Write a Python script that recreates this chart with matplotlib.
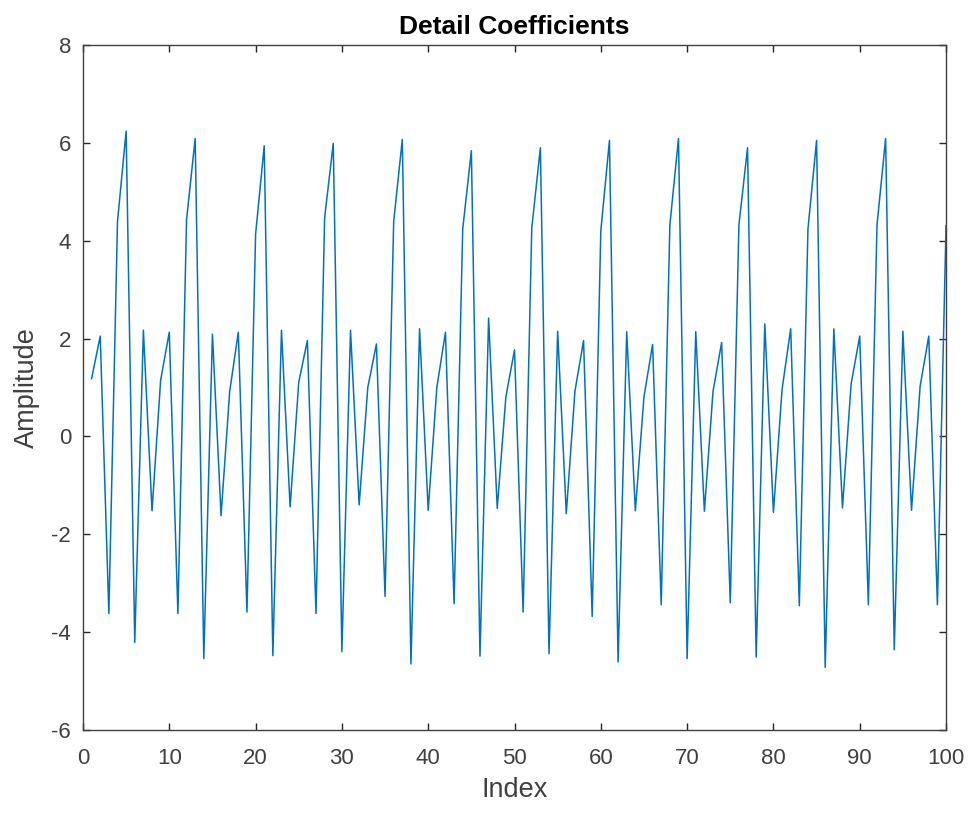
import numpy as np
import matplotlib.pyplot as plt

plt.rcParams['font.family'] = ['Liberation Sans', 'DejaVu Sans']
plt.rcParams['axes.unicode_minus'] = False

index = np.arange(1, 101)
amplitude = [
    1.18, 2.05, -3.62, 4.39, 6.24, -4.21, 2.17, -1.52, 1.15, 2.13,
    -3.62, 4.43, 6.09, -4.54, 2.09, -1.62, 0.92, 2.13, -3.59, 4.13,
    5.94, -4.48, 2.17, -1.44, 1.11, 1.96, -3.62, 4.47, 5.99, -4.40,
    2.17, -1.40, 1.00, 1.89, -3.27, 4.39, 6.07, -4.65, 2.20, -1.51,
    1.00, 2.13, -3.42, 4.24, 5.84, -4.49, 2.42, -1.47, 0.81, 1.77,
    -3.59, 4.26, 5.90, -4.44, 2.15, -1.58, 0.92, 1.96, -3.68, 4.20,
    6.05, -4.61, 2.14, -1.52, 0.81, 1.88, -3.44, 4.32, 6.09, -4.54,
    2.14, -1.53, 0.92, 1.92, -3.40, 4.32, 5.90, -4.51, 2.30, -1.55,
    0.96, 2.20, -3.46, 4.24, 6.05, -4.72, 2.20, -1.46, 1.07, 2.05,
    -3.44, 4.32, 6.09, -4.36, 2.15, -1.51, 1.03, 2.05, -3.44, 4.31,
]

fig = plt.figure(figsize=(9.75, 8.14), dpi=100)
ax = fig.add_axes([0.0851, 0.1032, 0.8852, 0.8415])

ax.plot(index, amplitude, color="#0072BD", linewidth=1.1)

ax.set_xlim(0, 100)
ax.set_ylim(-6, 8)
ax.set_xticks(np.arange(0, 101, 10))
ax.set_yticks(np.arange(-6, 9, 2))

ax.tick_params(direction="in", top=True, right=True, length=5, width=1,
               color="#262626", labelcolor="#404040", labelsize=16)
ax.tick_params(axis="x", pad=13)
ax.tick_params(axis="y", pad=8.5)
for s in ax.spines.values():
    s.set_color("#404040")
    s.set_linewidth(1)

ax.set_title("Detail Coefficients", fontsize=19, fontweight="bold", color="black", pad=8)
ax.set_xlabel("Index", fontsize=19.5, color="#404040", labelpad=6)
ax.set_ylabel("Amplitude", fontsize=19.5, color="#404040", labelpad=8)

fig.savefig("out.png", dpi=100)
